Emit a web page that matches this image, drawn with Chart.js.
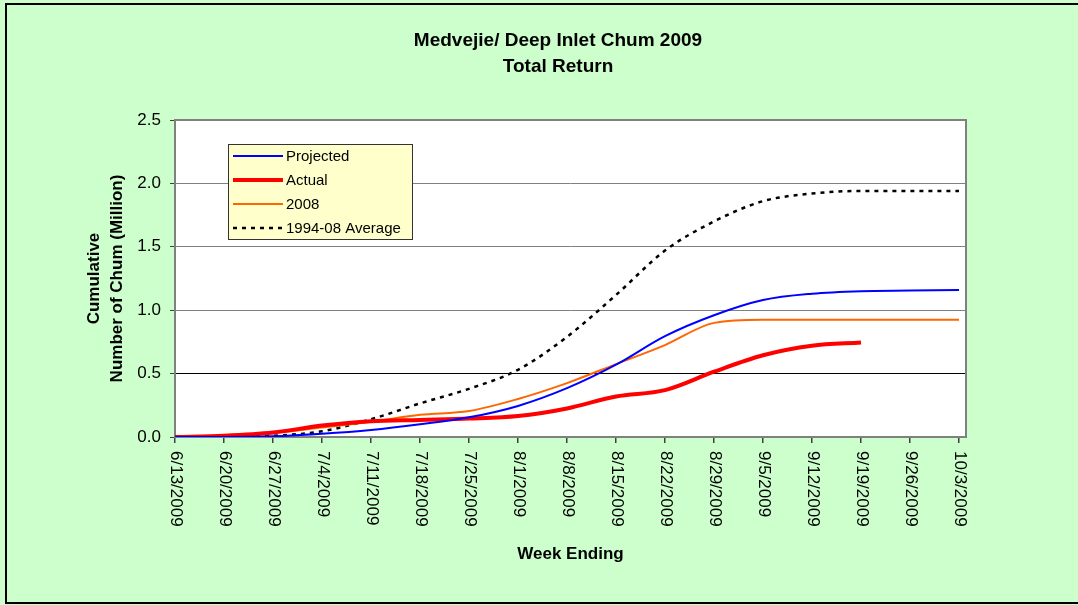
<!DOCTYPE html>
<html>
<head>
<meta charset="utf-8">
<title>Medvejie/ Deep Inlet Chum 2009</title>
<script src="https://cdn.jsdelivr.net/npm/chart.js@4.4.0/dist/chart.umd.min.js"></script>
<style>
  html, body { margin: 0; padding: 0; background: #ccffcc; }
  #chart { display: block; }
</style>
</head>
<body>
<canvas id="chart" width="1078" height="605"></canvas>
<script>
// week-ending dates, one tick every 7 days
const weekLabels = [
  '6/13/2009', '6/20/2009', '6/27/2009', '7/4/2009', '7/11/2009', '7/18/2009',
  '7/25/2009', '8/1/2009', '8/8/2009', '8/15/2009', '8/22/2009', '8/29/2009',
  '9/5/2009', '9/12/2009', '9/19/2009', '9/26/2009', '10/3/2009'
];
const weekDay = [0, 7, 14, 21, 28, 35, 42, 49, 56, 63, 70, 77, 84, 91, 98, 105, 112];

// cumulative chum, millions
const projected = [0, 0, 0.005, 0.025, 0.055, 0.10, 0.155, 0.245, 0.385, 0.57, 0.795, 0.96, 1.08, 1.13, 1.15, 1.155, 1.16];
const actual = [0, 0.01, 0.035, 0.09, 0.125, 0.135, 0.145, 0.165, 0.225, 0.32, 0.37, 0.515, 0.645, 0.72, 0.745];
const year2008 = [0, 0.01, 0.03, 0.075, 0.12, 0.175, 0.205, 0.30, 0.425, 0.575, 0.725, 0.90, 0.925, 0.925, 0.925, 0.925, 0.925];
const average = [0, 0, 0.01, 0.045, 0.14, 0.265, 0.38, 0.53, 0.79, 1.12, 1.47, 1.70, 1.86, 1.92, 1.94, 1.94, 1.94];

const FONT = '"Liberation Sans", Arial, sans-serif';

function toPoints(vals) {
  return vals.map((v, i) => ({ x: weekDay[i], y: v }));
}

// background, title, plot border, rotated date labels and the boxed legend
const excelLook = {
  id: 'excelLook',
  beforeDraw(chart) {
    const { ctx, chartArea: a } = chart;
    ctx.save();
    ctx.fillStyle = '#ccffcc';
    ctx.fillRect(0, 0, chart.width, chart.height);
    ctx.strokeStyle = '#000';
    ctx.lineWidth = 2;
    ctx.strokeRect(6, 4, 1090, 599);
    ctx.fillStyle = '#fff';
    ctx.fillRect(a.left, a.top, a.width, a.height);

    ctx.fillStyle = '#000';
    ctx.font = 'bold 19px ' + FONT;
    ctx.textAlign = 'center';
    ctx.textBaseline = 'middle';
    ctx.fillText('Medvejie/ Deep Inlet Chum 2009', 558, 41);
    ctx.fillText('Total Return', 558, 67);
    ctx.restore();
  },
  beforeDatasetsDraw(chart) {
    const { ctx, chartArea: a } = chart;
    ctx.save();
    ctx.strokeStyle = '#808080';
    ctx.lineWidth = 2;
    ctx.strokeRect(a.left, a.top, a.width, a.height);
    ctx.restore();
  },
  afterDraw(chart) {
    const ctx = chart.ctx;
    const xs = chart.scales.x;
    ctx.save();
    ctx.fillStyle = '#000';
    ctx.font = '17px ' + FONT;
    ctx.textAlign = 'left';
    ctx.textBaseline = 'middle';
    xs.ticks.forEach((t, i) => {
      ctx.save();
      ctx.translate(xs.getPixelForValue(t.value) + 1, xs.top + 14);
      ctx.rotate(Math.PI / 2);
      ctx.fillText(weekLabels[i], 0, 0);
      ctx.restore();
    });

    // legend box
    const lx = 228.5, ly = 144.5, lw = 184, lh = 95;
    ctx.fillStyle = '#ffffcc';
    ctx.fillRect(lx, ly, lw, lh);
    ctx.strokeStyle = '#333';
    ctx.lineWidth = 1;
    ctx.strokeRect(lx, ly, lw, lh);
    ctx.font = '15px ' + FONT;
    chart.data.datasets.forEach((ds, i) => {
      const y = 156 + i * 24;
      ctx.beginPath();
      ctx.setLineDash(ds.borderDash || []);
      ctx.strokeStyle = ds.borderColor;
      ctx.lineWidth = ds.borderWidth;
      ctx.moveTo(233, y);
      ctx.lineTo(283, y);
      ctx.stroke();
      ctx.setLineDash([]);
      ctx.fillStyle = '#000';
      ctx.fillText(ds.label, 286, y + 1);
    });
    ctx.restore();
  }
};

const lineDefaults = {
  fill: false,
  pointRadius: 0,
  cubicInterpolationMode: 'monotone'
};

new Chart(document.getElementById('chart'), {
  type: 'line',
  data: {
    datasets: [
      { ...lineDefaults, label: 'Projected', data: toPoints(projected), borderColor: '#0000ff', borderWidth: 2 },
      { ...lineDefaults, label: 'Actual', data: toPoints(actual), borderColor: '#ff0000', borderWidth: 4 },
      { ...lineDefaults, label: '2008', data: toPoints(year2008), borderColor: '#ff6600', borderWidth: 2 },
      { ...lineDefaults, label: '1994-08 Average', data: toPoints(average), borderColor: '#000000', borderWidth: 2.5, borderDash: [4, 5] }
    ]
  },
  options: {
    responsive: false,
    animation: false,
    devicePixelRatio: 1,
    layout: { padding: { left: 70, top: 120, right: 112, bottom: 0 } },
    plugins: {
      legend: { display: false },
      title: { display: false },
      tooltip: { enabled: false }
    },
    scales: {
      x: {
        type: 'linear',
        min: 0,
        max: 113,
        afterBuildTicks: (scale) => {
          scale.ticks = weekDay.map((v) => ({ value: v }));
        },
        afterFit: (scale) => { scale.height = 168; },
        ticks: { display: false },
        grid: { drawOnChartArea: false, tickLength: 6, tickColor: '#404040', lineWidth: 1.5 },
        border: { display: false },
        title: {
          display: true,
          text: 'Week Ending',
          color: '#000',
          font: { family: FONT, size: 17, weight: 'bold' },
          padding: { top: 0, bottom: 40 }
        }
      },
      y: {
        min: 0,
        max: 2.5,
        afterFit: (scale) => { scale.width = 105; },
        ticks: {
          stepSize: 0.5,
          padding: 9,
          color: '#000',
          font: { family: FONT, size: 17 },
          callback: (v) => v.toFixed(1)
        },
        grid: {
          tickLength: 5,
          tickColor: '#404040',
          lineWidth: 1,
          color: (c) => (c.tick && c.tick.value === 0.5 ? '#000' : '#808080')
        },
        border: { display: false },
        title: {
          display: true,
          text: ['Cumulative', 'Number of Chum (Million)'],
          color: '#000',
          font: { family: FONT, size: 17, weight: 'bold', lineHeight: '23px' },
          padding: { top: 13, bottom: 0 }
        }
      }
    }
  },
  plugins: [excelLook]
});
</script>
</body>
</html>
